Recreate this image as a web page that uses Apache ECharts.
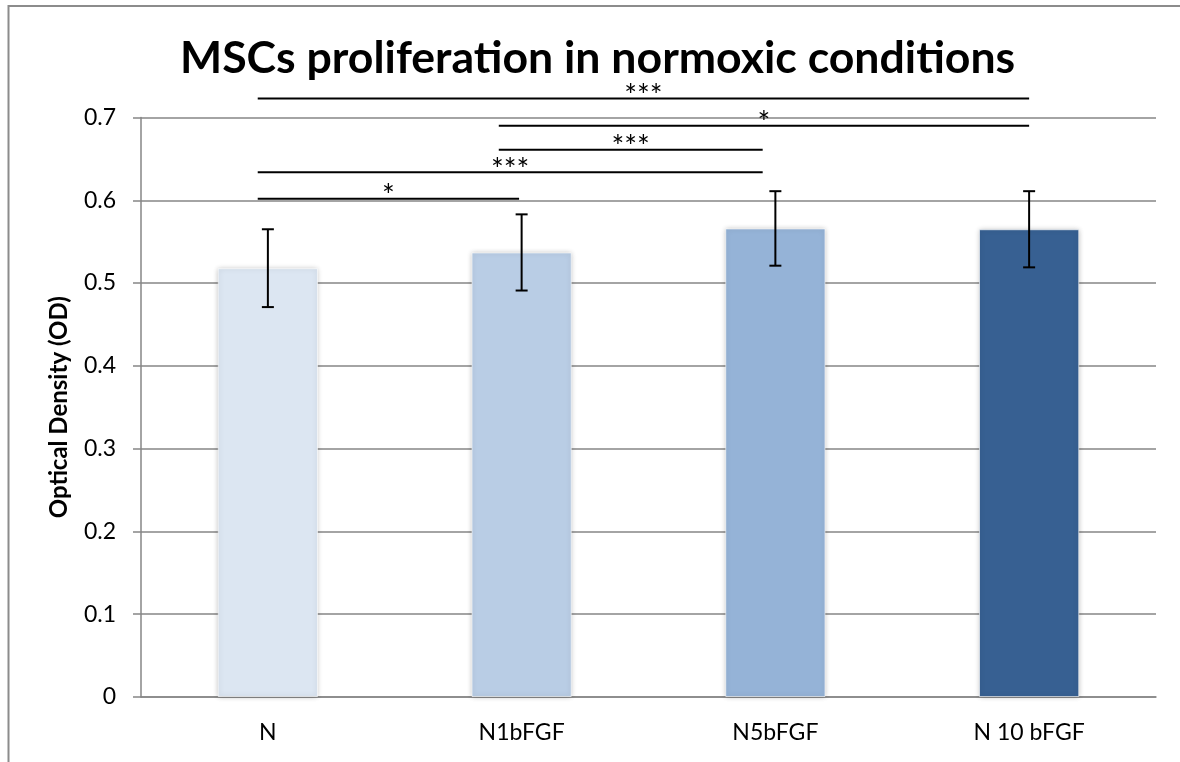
<!DOCTYPE html>
<html>
<head>
<meta charset="utf-8">
<title>MSCs proliferation in normoxic conditions</title>
<script src="https://cdn.jsdelivr.net/npm/echarts@6/dist/echarts.min.js"></script>
<style>
  html, body { margin: 0; padding: 0; background: #ffffff; }
  #chart { width: 1180px; height: 762px; }
</style>
</head>
<body>
<div id="chart"></div>
<script>
// Groups and their mean optical density
const categories = ['N', 'N1bFGF', 'N5bFGF', 'N 10 bFGF'];
const meanOD = [0.518, 0.537, 0.566, 0.565];
const errorOD = [0.047, 0.046, 0.045, 0.046];
const barColors = ['#DCE6F2', '#B9CDE5', '#95B3D7', '#376092'];

// Significance brackets: start / end in category units, height in OD, marker text
const bracketStart = [-0.04, 0.91, 0.91, -0.04, -0.04];
const bracketEnd   = [3.0, 3.0, 1.95, 1.95, 0.99];
const bracketLevel = [0.723, 0.690, 0.661, 0.634, 0.602];
const bracketMark  = ['***', '*', '***', '***', '*'];

const yTicks = [0, 0.1, 0.2, 0.3, 0.4, 0.5, 0.6, 0.7];

const FONT = 'Lato, "Open Sans", sans-serif';

const chart = echarts.init(document.getElementById('chart'), null, { renderer: 'canvas' });

const barData = meanOD.map((v, i) => ({
  value: v,
  itemStyle: { color: barColors[i] }
}));

const errData = meanOD.map((v, i) => [i, v - errorOD[i], v + errorOD[i]]);

const bracketData = bracketStart.map((s, i) => [s, bracketEnd[i], bracketLevel[i], bracketMark[i]]);

chart.setOption({
  animation: false,
  backgroundColor: '#ffffff',
  title: {
    text: 'MSCs proliferation in normoxic conditions',
    left: 175,
    top: 31,
    textStyle: { fontFamily: FONT, fontWeight: 'bold', fontSize: 44.6, color: '#000000' }
  },
  graphic: [{
    type: 'polyline',
    silent: true,
    shape: { points: [[8.5, 770], [8.5, 6], [1190, 6]] },
    style: { stroke: '#8c8c8c', lineWidth: 2, fill: null }
  }],
  grid: { left: 141, right: 24, top: 117.5, bottom: 65, containLabel: false },
  xAxis: [{
    type: 'category',
    data: categories,
    boundaryGap: true,
    axisLine: { lineStyle: { color: '#868686', width: 1.5 } },
    axisTick: { length: 8, lineStyle: { color: '#868686', width: 1.5 } },
    axisLabel: { margin: 24, fontFamily: FONT, fontSize: 23, color: '#000000' }
  }, {
    type: 'value',
    min: -0.5,
    max: 3.5,
    show: false
  }],
  yAxis: {
    type: 'value',
    min: 0,
    max: 0.7,
    interval: 0.1,
    name: 'Optical Density (OD)',
    nameLocation: 'middle',
    nameGap: 70,
    nameTextStyle: { fontFamily: FONT, fontWeight: 'bold', fontSize: 24, color: '#000000' },
    axisLine: { show: true, onZero: false, lineStyle: { color: '#868686', width: 1.5 } },
    axisTick: { show: true, length: 8, inside: false, lineStyle: { color: '#868686', width: 1.5 } },
    splitLine: { lineStyle: { color: '#868686', width: 1.5 } },
    axisLabel: {
      margin: 25,
      fontFamily: FONT,
      fontSize: 23,
      color: '#000000',
      formatter: v => {
        const t = yTicks.find(k => Math.abs(k - v) < 1e-9);
        return t === 0 ? '0' : t.toFixed(1);
      }
    }
  },
  series: [{
    type: 'bar',
    data: barData,
    barWidth: '39.5%',
    itemStyle: {
      shadowColor: 'rgba(0,0,0,0.28)',
      shadowBlur: 5,
      borderColor: 'rgba(255,255,255,0.6)',
      borderWidth: 1
    },
    z: 2
  }, {
    type: 'custom',
    name: 'error',
    data: errData,
    z: 5,
    renderItem: (params, api) => {
      const x = api.value(0);
      const lo = api.coord([x, api.value(1)]);
      const hi = api.coord([x, api.value(2)]);
      const cap = 6;
      const style = { stroke: '#000000', lineWidth: 2 };
      return {
        type: 'group',
        children: [
          { type: 'line', shape: { x1: hi[0], y1: hi[1], x2: lo[0], y2: lo[1] }, style },
          { type: 'line', shape: { x1: hi[0] - cap, y1: hi[1], x2: hi[0] + cap, y2: hi[1] }, style },
          { type: 'line', shape: { x1: lo[0] - cap, y1: lo[1], x2: lo[0] + cap, y2: lo[1] }, style }
        ]
      };
    }
  }, {
    type: 'custom',
    name: 'significance',
    xAxisIndex: 1,
    data: bracketData,
    clip: false,
    z: 6,
    renderItem: (params, api) => {
      const a = api.coord([api.value(0), api.value(2)]);
      const b = api.coord([api.value(1), api.value(2)]);
      const mark = bracketMark[params.dataIndex];
      return {
        type: 'group',
        children: [
          { type: 'line', shape: { x1: a[0], y1: a[1], x2: b[0], y2: b[1] }, style: { stroke: '#000000', lineWidth: 2 } },
          {
            type: 'text',
            style: {
              text: mark,
              x: (a[0] + b[0]) / 2,
              y: a[1] - 2,
              align: 'center',
              verticalAlign: 'middle',
              fontFamily: FONT,
              fontSize: 30,
              fill: '#000000'
            }
          }
        ]
      };
    }
  }]
});
</script>
</body>
</html>
